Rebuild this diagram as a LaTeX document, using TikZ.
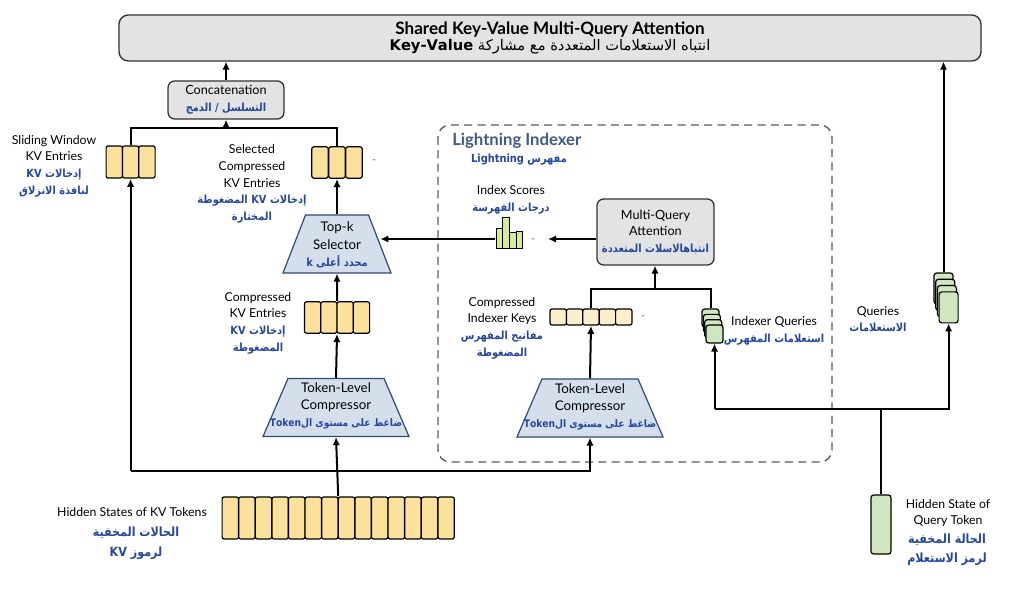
\documentclass[tikz,border=0pt]{standalone}
\usepackage{fontspec}
\setmainfont{Lato}
\newfontfamily\arabicfont[Script=Arabic,FakeStretch=0.88]{DejaVu Sans}
\newfontfamily\arabictitle[Script=Arabic]{DejaVu Sans}
\TeXXeTstate=1
\usetikzlibrary{arrows.meta,shapes.geometric,fit}
\definecolor{cellyellow}{HTML}{FAE29C}
\definecolor{cellcream}{HTML}{FCEFCB}
\definecolor{cellgreen}{HTML}{CFE6BE}
\definecolor{bargreen}{HTML}{D6EA9E}
\definecolor{boxgray}{HTML}{E3E3E3}
\definecolor{trapblue}{HTML}{D5DFEB}
\definecolor{trapedge}{HTML}{2E4B73}
\definecolor{artext}{HTML}{2547A0}
\definecolor{idxtitle}{HTML}{3F5B82}
\newcommand{\artxt}[1]{{\arabicfont\bfseries\color{artext}\beginR #1\endR}}
\newcommand{\enword}[1]{\beginL #1\endL}
\tikzset{
  lbl/.style={align=center, font=\fontsize{9.2}{12.5}\selectfont, inner sep=0pt},
  link/.style={line width=1.5pt},
  arr/.style={link, -{Latex[length=6pt,width=5.5pt]}},
  greybox/.style={draw=black!80, fill=boxgray, rounded corners=5pt, line width=1pt, align=center, inner sep=2pt, font=\fontsize{9.5}{12.5}\selectfont},
  trapbox/.style={trapezium, trapezium stretches body=true, draw=trapedge, fill=trapblue, line width=0.9pt, inner xsep=0pt, inner ysep=21.75pt},
  traptext/.style={align=center, inner sep=0pt, font=\fontsize{10}{13}\selectfont},
  kvcell/.style={draw, fill=cellyellow, line width=0.9pt, rounded corners=1.5pt, inner sep=0pt, minimum width=12.3pt, minimum height=#1},
  kvcell/.default=23.5pt,
  keycell/.style={kvcell=12pt, fill=cellcream},
  qcard/.style={draw, fill=cellgreen, line width=0.9pt, rounded corners=2pt, inner sep=0pt},
  bar/.style={draw, fill=bargreen, line width=0.7pt, inner sep=0pt, minimum width=5pt},
  dashmark/.style={text=black!60, font=\fontsize{8}{10}\selectfont, inner sep=0pt},
  indexerframe/.style={draw=black!65, dash pattern=on 6pt off 4pt, line width=1pt, rounded corners=9pt}
}
\begin{document}
\begin{tikzpicture}[x=0.75pt,y=-0.75pt]
\useasboundingbox (0,0) rectangle (1024,598);

% lightning indexer frame
\draw[indexerframe] (438,125) rectangle (832,462);
\node[anchor=west, font=\bfseries\fontsize{12.5}{14}\selectfont, text=idxtitle, inner sep=0pt] (idxname) at (452,141) {Lightning Indexer};
\node[lbl, font=\fontsize{8.4}{12}\selectfont] (idxar) at (519,160) {\artxt{مفهرس \enword{Lightning}}};

% top block
\node[greybox, minimum width=646.5pt, minimum height=34.5pt, rounded corners=7pt] (title) at (550,38)
  {{\bfseries\fontsize{12.8}{15.5}\selectfont Shared Key-Value Multi-Query Attention}\\
   {\arabictitle\fontsize{11}{13}\selectfont\beginR انتباه الاستعلامات المتعددة مع مشاركة {\bfseries\enword{Key-Value}}\endR}};
\node[greybox, minimum width=87pt, minimum height=28.5pt] (concat) at (226,100)
  {Concatenation\\{\fontsize{8.4}{12}\selectfont\artxt{التسلسل / الدمج}}};

% kv branch
\foreach \i in {1,2,3}
  \node[kvcell=24pt] (sw\i) at ({98+16.3*\i},162) {};
\node[fit=(sw1)(sw3), inner sep=0pt] (swin) {};
\foreach \i in {1,2,3}
  \node[kvcell] (se\i) at ({303+17*\i},162.5) {};
\node[fit=(se1)(se3), inner sep=0pt] (sel) {};
\node[dashmark] (seldash) at (374,162) {-};
\node[trapbox, trapezium angle=68.8, minimum width=81pt] (topk) at (337,244) {};
\node[traptext] (topktext) at (337,245) {Top-k\\Selector\\{\fontsize{8.4}{12}\selectfont\artxt{محدد أعلى \enword{k}}}};
\foreach \i in {1,...,4}
  \node[kvcell] (ck\i) at ({296.4+16.25*\i},317.5) {};
\node[fit=(ck1)(ck4), inner sep=0pt] (ckv) {};
\node[trapbox, trapezium angle=66.7, minimum width=109.5pt] (comp1) at (336,407.5) {};
\node[traptext] (comp1text) at (336,406) {Token-Level\\Compressor\\{\fontsize{7.8}{11}\selectfont\artxt{ضاغط على مستوى ال\enword{Token}}}};
\foreach \i in {1,...,14}
  \node[kvcell=31.5pt] (kv\i) at ({213.7+16.6*\i},518) {};
\node[fit=(kv1)(kv14), inner sep=0pt] (kvtok) {};

% indexer branch
\node[greybox, minimum width=87.75pt, minimum height=49.5pt] (mqa) at (655.5,232)
  {Multi-Query\\Attention\\{\fontsize{8.4}{12}\selectfont\artxt{انتباهالاسلات المتعددة}}};
\foreach \i/\h in {1/20,2/31,3/16,4/17}
  \node[bar, minimum height={\h*0.75pt}, anchor=south] (bar\i) at ({492.6+6.75*\i},249) {};
\node[fit=(bar1)(bar2)(bar3)(bar4), inner sep=0pt] (scores) {};
\node[dashmark] (scoredash) at (533,241) {-};
\foreach \i in {1,...,5}
  \node[keycell] (ik\i) at ({541.8+16.4*\i},317) {};
\node[fit=(ik1)(ik5), inner sep=0pt] (ikeys) {};
\node[dashmark] (keydash) at (643,318) {-};
\node[trapbox, trapezium angle=66.7, minimum width=109.5pt] (comp2) at (590,408) {};
\node[traptext] (comp2text) at (590,407) {Token-Level\\Compressor\\{\fontsize{7.8}{11}\selectfont\artxt{ضاغط على مستوى ال\enword{Token}}}};
\foreach \i in {1,...,4}
  \node[qcard, minimum width=12.75pt, minimum height=13.5pt] (iq\i) at ({709.2+1.33*\i},{312.7+5.33*\i}) {};

% query branch
\foreach \i in {1,...,4}
  \node[qcard, minimum width=14.25pt, minimum height=23.25pt] (q\i) at ({941.8+1.7*\i},{282.2+6.3*\i}) {};
\node[qcard, minimum width=15pt, minimum height=44.25pt] (qtok) at (881,524.5) {};

% labels
\node[lbl] (swinlab) at (54,166) {Sliding Window\\KV Entries\\{\fontsize{8.4}{12.5}\selectfont\artxt{إدخالات \enword{KV}}}\\{\fontsize{8.4}{12.5}\selectfont\artxt{لنافذة الانزلاق}}};
\node[lbl] (sellab) at (252,184) {Selected\\Compressed\\KV Entries\\{\fontsize{8.4}{12.5}\selectfont\artxt{إدخالات \enword{KV} المضغوطة}}\\{\fontsize{8.4}{12}\selectfont\artxt{المختارة}}};
\node[lbl] (ckvlab) at (258,323) {Compressed\\KV Entries\\{\fontsize{8.4}{13}\selectfont\artxt{إدخالات \enword{KV}}}\\{\fontsize{8.4}{12.5}\selectfont\artxt{المضغوطة}}};
\node[lbl] (scorelab) at (511,200) {Index Scores\\{\fontsize{8.4}{12}\selectfont\artxt{درجات الفهرسة}}};
\node[lbl] (ikeylab) at (502,328) {Compressed\\Indexer Keys\\{\fontsize{8.4}{12.5}\selectfont\artxt{مفاتيح المفهرس}}\\{\fontsize{8.4}{12}\selectfont\artxt{المضغوطة}}};
\node[lbl] (iqlab) at (774,331) {Indexer Queries\\{\fontsize{8.4}{12}\selectfont\artxt{استعلامات المفهرس}}};
\node[lbl] (qlab) at (878,319) {Queries\\{\fontsize{8.4}{12}\selectfont\artxt{الاستعلامات}}};
\node[lbl] (kvtoklab) at (132,512) {Hidden States of KV Tokens};
\node[lbl, font=\fontsize{9.5}{15}\selectfont] (kvtokar) at (136,543) {\artxt{الحالات المخفية}\\\artxt{لرموز \enword{KV}}};
\node[lbl] (qtoklab) at (948,513) {Hidden State of\\Query Token};
\node[lbl, font=\fontsize{9.5}{14.5}\selectfont] (qtokar) at (947,550) {\artxt{الحالة المخفية}\\\artxt{لرمز الاستعلام}};

% junction points
\coordinate (merge) at (226,128);
\coordinate (kvbus) at (338,471);
\coordinate (mqjoin) at (655,289);
\coordinate (scoretip) at (548,239);
\coordinate (qbus) at (881,409);

% connectors
\draw[arr] (concat.north) -- (concat.north |- title.south);
\draw[link] (swin.north) |- (merge) -| (sel.north);
\draw[arr] (merge) -- (concat.south);
\draw[arr] (topk.north) -- (sel.south);
\draw[arr] (ckv.north) -- (topk.south);
\draw[arr] (comp1.north) -- (ckv.south);
\draw[arr] (kvtok.north) -- (comp1.south);
\draw[arr] (swin.south |- kvbus) -- (swin.south);
\draw[arr] (swin.south |- kvbus) -| (comp2.south);
\draw[arr] (comp2.north) -- (ikeys.south);
\draw[link] (ikeys.north) |- (mqjoin) -| (iq1.north);
\draw[arr] (mqjoin) -- (mqjoin |- mqa.south);
\draw[arr] (mqa.west |- scoretip) -- (scoretip);
\draw[arr] (scores.west |- scoretip) -- (topk.east |- scoretip);
\draw[link] (qtok.north) -- (qbus);
\draw[arr] (iq4.south |- qbus) -- (iq4.south);
\draw[arr] (iq4.south |- qbus) -| (q4.south);
\draw[arr] (q1.north) -- (q1.north |- title.south);
\end{tikzpicture}
\end{document}
